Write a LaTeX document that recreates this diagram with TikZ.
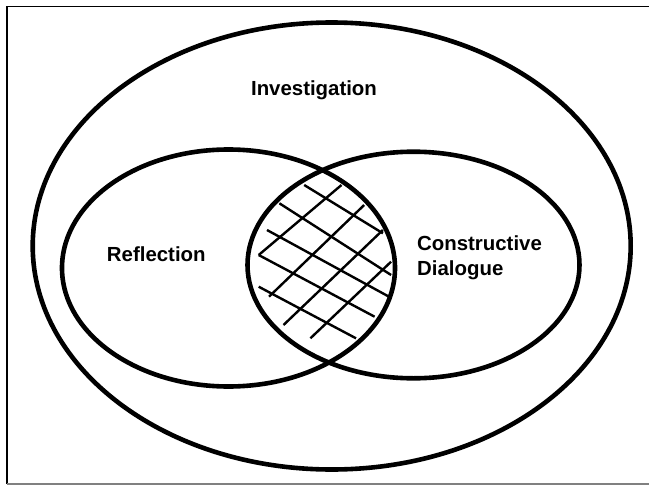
\documentclass[tikz,border=0pt]{standalone}
\usepackage{fontspec}
\setmainfont{Liberation Sans}
\usetikzlibrary{shapes.geometric}

\begin{document}
\begin{tikzpicture}[x=1pt, y=-1pt,
			set/.style={draw, ellipse, line width=4.6pt, inner sep=0pt},
			tag/.style={font=\bfseries\fontsize{20.4}{25}\selectfont, inner sep=0pt},
			hatch/.style={line width=2.4pt}]
			
			\useasboundingbox (0,0) rectangle (649,485);
			
			% Drawing the frame
			\coordinate (frameSW) at (7,484);
			\coordinate (frameNE) at (649,6.5);
			\coordinate (frameSE) at (649,484);
			\draw[line width=1.8pt] (frameSW) |- (frameNE);
			\draw[gray, line width=1.2pt] (frameSW) -- (frameSE);
			
			% Cross-hatching the overlap
			\foreach \xa/\ya/\xb/\yb in {304.2/185/382.9/233.3, 279.4/203.3/391.1/275,
				267/230/389/296.7, 258.7/255/374.6/316.7, 258.7/286.7/356/338.3,
				258.7/255/341.5/185, 269/296.7/364.2/205,
				283.5/325/382.9/230, 310.4/338.3/391.1/261.7}
				\draw[hatch] (\xa,\ya) -- (\xb,\yb);
			
			% Drawing the sets
			\node[set, minimum width=598pt, minimum height=447pt] (set1) at (331.7,246) {};
			\node[set, minimum width=333pt, minimum height=237pt] (set2) at (228.5,268) {};
			\node[set, minimum width=332pt, minimum height=226.6pt] (set3) at (413.5,265) {};
			
			% Labels
			\node[tag, anchor=base] (label1) at (314,95) {Investigation};
			\node[tag, anchor=base] (label2) at (156.3,261) {Reflection};
			\node[tag, align=left, anchor=west] (label3) at (417,257.9) {Constructive\\Dialogue};
		\end{tikzpicture}
\end{document}
